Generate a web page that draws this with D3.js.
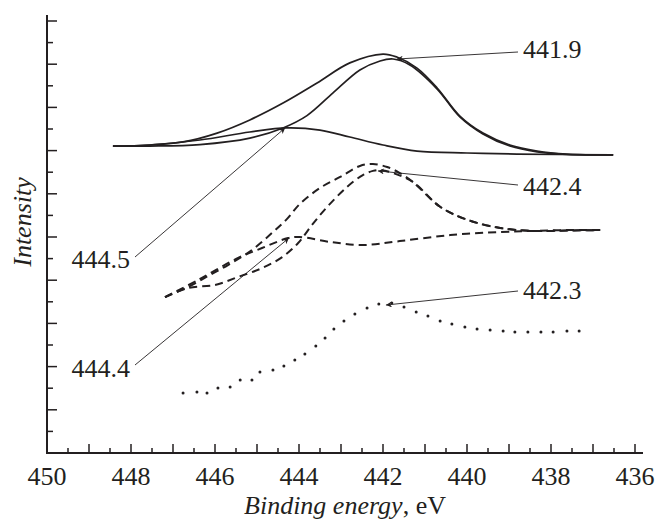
<!DOCTYPE html>
<html><head><meta charset="utf-8">
<script src="https://cdn.jsdelivr.net/npm/d3@7"></script>
<style>
html,body{margin:0;padding:0;background:#fff;}
svg{display:block;}
text{font-family:"Liberation Serif","Times New Roman",serif;fill:#231f20;}
</style></head>
<body>
<svg id="chart" width="657" height="521"></svg>
<script>
// ---- data (binding energy eV, intensity a.u.) ----
const xTickLabels = [450, 448, 446, 444, 442, 440, 438, 436];

// solid group
const solidEnvelope = [[448.43,14.21],[447.55,14.26],[446.76,14.40],[445.95,14.81],[445.17,15.42],[444.38,16.20],[443.57,17.13],[442.79,18.06],[442.00,18.47],[441.67,18.33],[441.19,17.82],[440.71,16.90],[440.17,15.60],[439.62,14.81],[438.98,14.26],[438.33,13.98],[437.62,13.84],[436.52,13.80]];
const solidMain = [[448.43,14.21],[447.55,14.21],[446.36,14.28],[445.17,14.58],[444.38,15.05],[443.81,15.62],[443.19,16.67],[442.55,17.73],[442.07,18.15],[441.76,18.24],[441.36,17.96],[440.71,16.85],[440.17,15.56],[439.62,14.77],[438.98,14.21],[438.33,13.94],[437.62,13.82],[436.52,13.80]];
const solidSmall = [[448.43,14.21],[447.55,14.26],[446.36,14.49],[445.17,14.86],[444.29,15.05],[443.50,14.95],[442.79,14.63],[442.00,14.26],[441.19,13.98],[440.00,13.89],[438.81,13.84],[436.52,13.80]];

// dashed group
const dashedEnvelope = [[447.19,7.22],[446.64,7.69],[446.17,8.19],[445.69,8.70],[445.12,9.40],[444.62,10.23],[444.29,10.83],[443.98,11.53],[443.50,12.27],[443.02,12.78],[442.55,13.29],[442.24,13.38],[441.90,13.24],[441.60,12.96],[441.29,12.55],[440.64,11.40],[440.00,10.80],[439.21,10.42],[438.43,10.28],[437.62,10.30],[436.83,10.32]];
const dashedMain = [[447.19,7.22],[446.64,7.64],[446.00,7.78],[445.45,8.15],[444.88,8.56],[444.40,9.07],[444.02,9.72],[443.69,10.56],[443.33,11.39],[442.86,12.31],[442.48,12.87],[442.24,13.06],[442.07,13.10],[441.76,12.96],[441.29,12.55],[440.64,11.40],[440.00,10.80],[439.21,10.42],[438.43,10.28],[437.62,10.30],[436.83,10.32]];
const dashedSmall = [[447.19,7.22],[446.40,8.01],[445.45,9.03],[444.88,9.49],[444.26,9.95],[443.98,10.00],[443.26,9.77],[442.48,9.63],[441.60,9.81],[440.40,10.09],[439.21,10.23],[438.43,10.28],[437.62,10.32],[436.83,10.32]];

// dotted spectrum
const dotted = [[446.76,2.78],[446.43,2.82],[446.19,2.78],[445.93,3.01],[445.64,3.06],[445.40,3.38],[445.12,3.38],[444.93,3.75],[444.62,3.84],[444.36,4.03],[444.10,4.31],[443.86,4.58],[443.60,4.95],[443.38,5.32],[443.17,5.74],[442.93,6.11],[442.67,6.44],[442.38,6.71],[442.10,6.90],[441.79,6.94],[441.50,6.76],[441.21,6.53],[440.93,6.34],[440.64,6.11],[440.36,5.97],[440.05,5.83],[439.76,5.74],[439.45,5.69],[439.14,5.65],[438.86,5.60],[438.55,5.60],[438.24,5.60],[437.95,5.60],[437.62,5.65],[437.33,5.65]];

// peak annotations: label, target [eV, intensity]
const peakLabels = ["441.9", "444.5", "442.4", "444.4", "442.3"];
const peakTargets = [[441.67,18.24],[444.33,15.05],[442.12,13.06],[444.24,9.95],[441.93,6.85]];

// ---- layout ----
const W = 657, H = 521;
const X0 = 47, X1 = 635, Y0 = 453, Y1 = 21;
const x = d3.scaleLinear().domain([450, 436]).range([X0, X1]);
const y = d3.scaleLinear().domain([0, 20]).range([Y0, Y1]);
const svg = d3.select("#chart");
const ink = "#231f20";

// label layout (pixel positions of text and leader start)
const labelLayout = [
  {tx:523, ty:58, anchor:"start", lx:518, ly:52},
  {tx:130, ty:268, anchor:"end", lx:135, ly:257},
  {tx:523, ty:195, anchor:"start", lx:518, ly:185},
  {tx:130, ty:377, anchor:"end", lx:135, ly:365},
  {tx:523, ty:299, anchor:"start", lx:518, ly:291}
];

// axes
const xTicks = d3.range(450, 435.9, -0.5);
const gx = svg.append("g");
gx.append("line").attr("x1", X0-1).attr("x2", 643).attr("y1", Y0).attr("y2", Y0)
  .attr("stroke", ink).attr("stroke-width", 2);
gx.selectAll("line.t").data(xTicks.slice(1)).enter().append("line")
  .attr("x1", d => x(d)).attr("x2", d => x(d))
  .attr("y1", Y0).attr("y2", d => Y0 - (Math.abs(d - Math.round(d)) < 1e-6 ? 9 : 5))
  .attr("stroke", ink).attr("stroke-width", 1.5);
gx.selectAll("text").data(xTickLabels).enter().append("text")
  .attr("x", d => x(d)).attr("y", 485).attr("text-anchor", "middle")
  .attr("font-size", 26).text(d => d);

const gy = svg.append("g");
gy.append("line").attr("x1", X0).attr("x2", X0).attr("y1", 15).attr("y2", Y0+1)
  .attr("stroke", ink).attr("stroke-width", 2);
const yt = d3.range(1, 21, 1);
gy.selectAll("line.t").data(yt).enter().append("line")
  .attr("x1", X0).attr("x2", d => X0 + (d % 2 === 0 ? 10 : 6))
  .attr("y1", d => y(d)).attr("y2", d => y(d))
  .attr("stroke", ink).attr("stroke-width", 1.5);

// axis titles
const xt = svg.append("text").attr("x", 345).attr("y", 514).attr("text-anchor", "middle").attr("font-size", 26);
xt.append("tspan").attr("font-style", "italic").text("Binding energy");
xt.append("tspan").text(", eV");
svg.append("text").attr("transform", "translate(31,222) rotate(-90)")
  .attr("text-anchor", "middle").attr("font-size", 26).attr("font-style", "italic").text("Intensity");

// curves
const line = d3.line().x(d => x(d[0])).y(d => y(d[1])).curve(d3.curveCatmullRom.alpha(0.5));
function draw(data, dash, sw) {
  svg.append("path").attr("d", line(data)).attr("fill", "none")
    .attr("stroke", ink).attr("stroke-width", sw)
    .attr("stroke-dasharray", dash || null);
}
draw(solidSmall, null, 1.7);
draw(solidMain, null, 1.7);
draw(solidEnvelope, null, 1.7);
draw(dashedSmall, "8 5", 2);
draw(dashedMain, "8 5", 2);
draw(dashedEnvelope, "8 5", 2);
svg.append("g").selectAll("circle").data(dotted).enter().append("circle")
  .attr("cx", d => x(d[0])).attr("cy", d => y(d[1])).attr("r", 1.5).attr("fill", ink);

// annotations
const defs = svg.append("defs");
defs.append("marker").attr("id", "arr").attr("viewBox", "0 0 10 10")
  .attr("refX", 10).attr("refY", 5).attr("markerWidth", 10).attr("markerHeight", 6)
  .attr("markerUnits", "userSpaceOnUse").attr("orient", "auto")
  .append("path").attr("d", "M0,0 L10,5 L0,10 L3,5 Z").attr("fill", ink);
const ga = svg.append("g");
peakLabels.forEach((lab, i) => {
  const L = labelLayout[i], t = peakTargets[i];
  ga.append("line").attr("x1", L.lx).attr("y1", L.ly).attr("x2", x(t[0])).attr("y2", y(t[1]))
    .attr("stroke", ink).attr("stroke-width", 0.9).attr("marker-end", "url(#arr)");
  ga.append("text").attr("x", L.tx).attr("y", L.ty).attr("text-anchor", L.anchor)
    .attr("font-size", 26).text(lab);
});
</script>
</body></html>
